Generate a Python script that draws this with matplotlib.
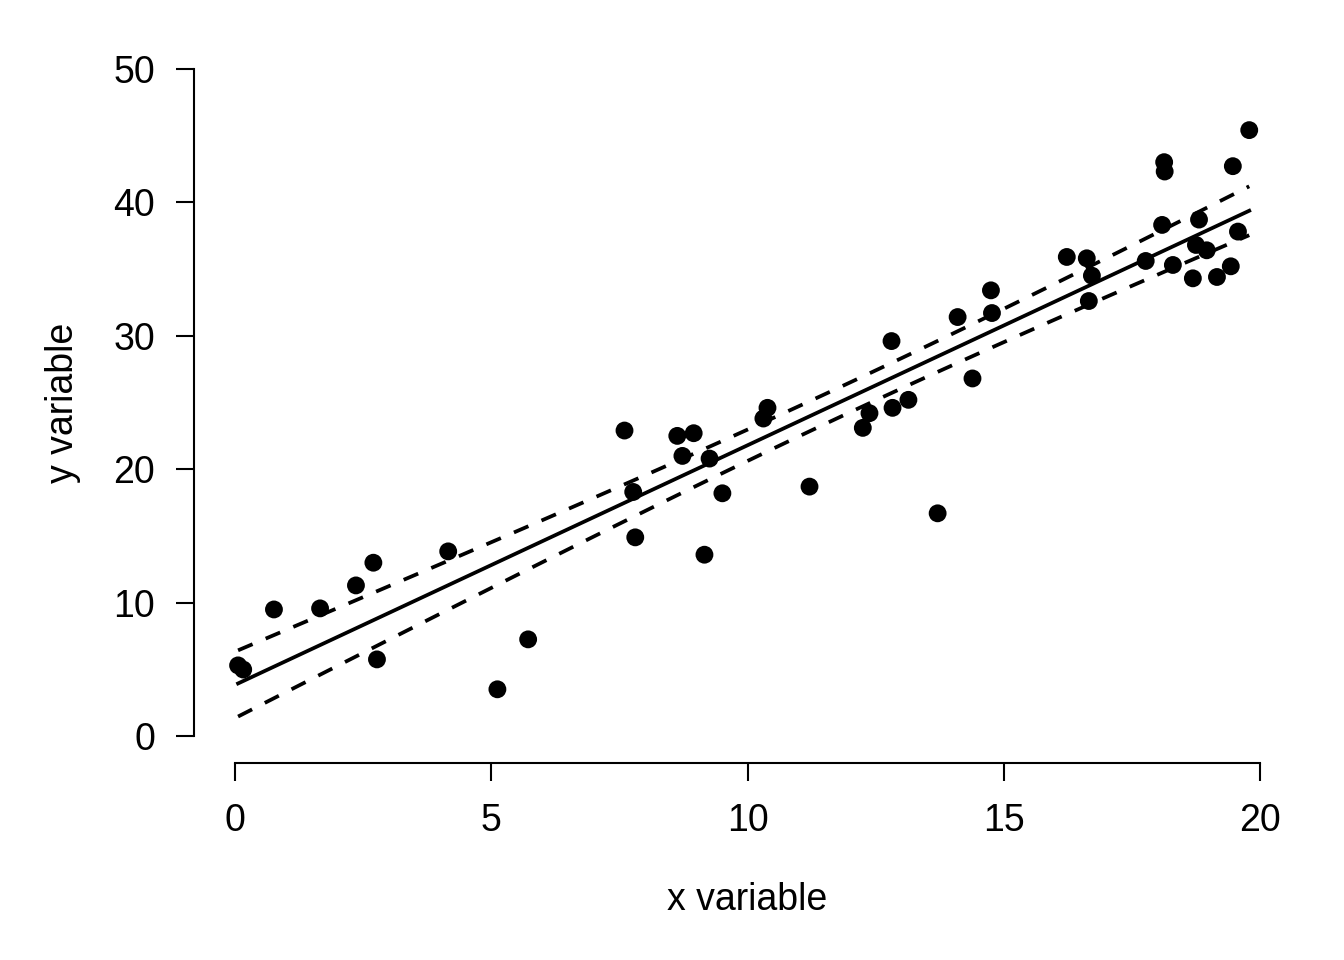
import numpy as np
import matplotlib
matplotlib.use('Agg')
import matplotlib.pyplot as plt

plt.rcParams['font.family'] = ['Liberation Sans', 'DejaVu Sans']

# 散点数据
x_vals = [0.06, 0.16, 0.76, 1.66, 2.36, 2.70, 2.77, 4.16, 5.12, 5.72,
          7.60, 7.77, 7.81, 8.63, 8.73, 8.95, 9.16, 9.26, 9.51, 10.31,
          10.39, 11.21, 12.25, 12.38, 12.81, 12.83, 13.14, 13.71, 14.10, 14.39,
          14.75, 14.77, 16.23, 16.62, 16.72, 16.66, 17.77, 18.09, 18.13, 18.14,
          18.30, 18.69, 18.75, 18.81, 18.96, 19.16, 19.43, 19.47, 19.57, 19.79]
y_vals = [5.31, 5.00, 9.50, 9.58, 11.30, 13.00, 5.76, 13.85, 3.52, 7.26,
          22.90, 18.30, 14.90, 22.50, 21.00, 22.70, 13.60, 20.80, 18.20, 23.80,
          24.60, 18.70, 23.10, 24.20, 29.60, 24.60, 25.20, 16.70, 31.40, 26.80,
          33.40, 31.70, 35.90, 35.80, 34.50, 32.60, 35.60, 38.30, 43.00, 42.30,
          35.30, 34.30, 36.80, 38.70, 36.40, 34.40, 35.20, 42.70, 37.80, 45.40]

x_ticks = [0, 5, 10, 15, 20]
y_ticks = [0, 10, 20, 30, 40, 50]
x_label = 'x variable'
y_label = 'y variable'

# ========================
# 线性回归 + 95% 置信区间
# ========================
x = np.array(x_vals)
y = np.array(y_vals)
n = len(x)
slope, intercept = np.polyfit(x, y, 1)
resid = y - (intercept + slope * x)
s = np.sqrt(np.sum(resid ** 2) / (n - 2))
sxx = np.sum((x - x.mean()) ** 2)
t_crit = 2.0106  # t(0.975, df=48)

xs = np.linspace(x.min(), x.max(), 100)
fit = intercept + slope * xs
se = s * np.sqrt(1 / n + (xs - x.mean()) ** 2 / sxx)
upper = fit + t_crit * se
lower = fit - t_crit * se

# ========================
# 绘图
# ========================
W, H = 1344, 960
fig = plt.figure(figsize=(W / 100, H / 100), dpi=100)
ax = fig.add_axes([194 / W, (H - 763) / H, (1301 - 194) / W, (763 - 42) / H])

ax.scatter(x, y, s=165, color='black', edgecolors='none', zorder=3)
ax.plot(xs, fit, color='black', linewidth=2.7)
ax.plot(xs, upper, color='black', linewidth=2.7, linestyle=(0, (4.2, 3.8)))
ax.plot(xs, lower, color='black', linewidth=2.7, linestyle=(0, (4.2, 3.8)))

ax.set_xlim(-0.8, 20.8)
ax.set_ylim(-2, 52)

for side in ['top', 'right']:
    ax.spines[side].set_visible(False)
ax.spines['bottom'].set_bounds(x_ticks[0], x_ticks[-1])
ax.spines['left'].set_bounds(y_ticks[0], y_ticks[-1])
ax.spines['bottom'].set_linewidth(1.5)
ax.spines['left'].set_linewidth(1.5)

ax.set_xticks(x_ticks)
ax.set_yticks(y_ticks)
ax.tick_params(axis='both', length=13, width=1.5, labelsize=27, direction='out')
ax.tick_params(axis='x', pad=16)
ax.tick_params(axis='y', pad=15)

fig.text(747 / W, 1 - 910 / H, x_label, fontsize=27, ha='center', va='baseline')
fig.text(63 / W, 1 - 403 / H, y_label, fontsize=27, ha='center', va='center',
         rotation=90)

fig.savefig('out.png', dpi=100)
